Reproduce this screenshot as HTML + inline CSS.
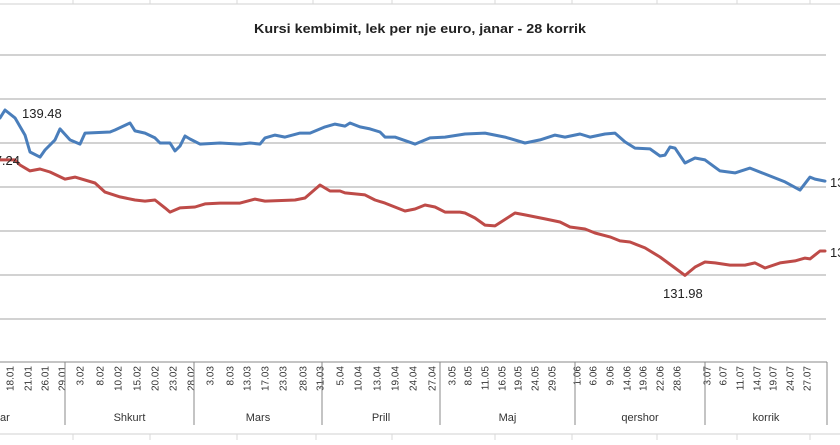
<!DOCTYPE html>
<html><head><meta charset="utf-8">
<style>
html,body{margin:0;padding:0;background:#fff;}
body{width:840px;height:440px;overflow:hidden;font-family:"Liberation Sans",sans-serif;}
svg text{font-family:"Liberation Sans",sans-serif;}
</style></head>
<body>
<svg id="chart" width="840" height="440" viewBox="0 0 840 440" xmlns="http://www.w3.org/2000/svg">
  <g id="excel-grid"></g>
  <text x="420" y="33" text-anchor="middle" font-size="12.5" font-weight="bold" fill="#222" textLength="332" lengthAdjust="spacingAndGlyphs">Kursi kembimit, lek per nje euro, janar - 28 korrik</text>
  <g id="gridlines"></g>
  <g id="series"></g>
  <g id="labels"></g>
  <g id="xaxis"></g>
</svg>
<script>
// ---- data ----
const yTicks = [130, 132, 134, 136, 138, 140, 142];
const blueDays = [0,1,3,5,6,8,9,11,12,14,16,17,22,23,26,27,29,31,32,34,35,36,37,38,40,44,48,50,52,53,55,57,60,62,65,67,69,70,72,74,76,77,79,83,86,89,93,97,101,105,108,111,113,116,118,121,123,125,127,130,132,133,134,135,137,139,141,144,147,150,153,157,160,162,163,165];
const blueValues = [139.14,139.50,139.14,138.36,137.59,137.36,137.68,138.14,138.64,138.14,137.95,138.45,138.50,138.59,138.91,138.55,138.45,138.23,138.00,138.00,137.64,137.86,138.32,138.18,137.95,138.00,137.95,138.00,137.95,138.23,138.36,138.27,138.45,138.45,138.73,138.86,138.77,138.91,138.73,138.64,138.50,138.27,138.27,137.95,138.23,138.27,138.41,138.45,138.27,138.00,138.14,138.36,138.27,138.41,138.27,138.41,138.45,138.05,137.77,137.73,137.41,137.45,137.82,137.77,137.09,137.32,137.23,136.73,136.64,136.86,136.59,136.23,135.86,136.45,136.36,136.27];
const redDays = [0,3,4,6,8,10,13,15,19,21,24,27,29,31,33,34,36,39,41,44,48,51,53,59,61,64,66,68,69,73,75,77,81,83,85,87,89,92,93,95,97,99,103,105,109,112,114,117,119,122,124,126,129,132,135,137,139,141,143,146,149,151,153,156,159,161,162,164,165];
const redValues = [137.23,137.23,137.00,136.73,136.82,136.68,136.36,136.45,136.18,135.77,135.55,135.41,135.36,135.41,135.05,134.86,135.05,135.09,135.23,135.27,135.27,135.45,135.36,135.41,135.50,136.09,135.82,135.82,135.73,135.64,135.41,135.27,134.91,135.00,135.18,135.09,134.86,134.86,134.82,134.59,134.27,134.23,134.82,134.73,134.55,134.41,134.18,134.09,133.91,133.73,133.55,133.50,133.23,132.82,132.32,131.98,132.36,132.59,132.55,132.45,132.45,132.55,132.32,132.55,132.64,132.77,132.73,133.09,133.09];
const tickLabels = ["18.01","21.01","26.01","29.01","3.02","8.02","10.02","15.02","20.02","23.02","28.02","3.03","8.03","13.03","17.03","23.03","28.03","31.03","5.04","10.04","13.04","19.04","24.04","27.04","3.05","8.05","11.05","16.05","19.05","24.05","29.05","1.06","6.06","9.06","14.06","19.06","22.06","28.06","3.07","6.07","11.07","14.07","19.07","24.07","27.07"];
const tickDays = [2,5.6,9,12.4,16,20,23.6,27.4,31,34.6,38.2,42,46,49.4,53,56.6,60.6,64,68,71.6,75.4,79,82.6,86.4,90.4,93.6,97,100.4,103.6,107,110.4,115.4,118.6,122,125.4,128.6,132,135.4,141.4,144.6,148,151.4,154.6,158,161.4];
const monthNames = ["janar","Shkurt","Mars","Prill","Maj","qershor","korrik"];
const monthStart = [-14,13,38.8,64.4,88,115,141];
const monthEnd = [13,38.8,64.4,88,115,141,165.4];

// ---- scales ----
const xScale = d => d * 5;
const yScale = v => 275 - (v - 132) * 22;
const NS = "http://www.w3.org/2000/svg";
function mk(tag, attrs, parent){const e=document.createElementNS(NS,tag);for(const k in attrs)e.setAttribute(k,attrs[k]);parent.appendChild(e);return e;}

// spreadsheet grid
const eg=document.getElementById('excel-grid');
const l1=mk('line',{x1:0,y1:4,x2:840,y2:4,stroke:'#d0d0d0','stroke-width':1},eg);


const l2=mk('line',{x1:0,y1:434,x2:840,y2:434,stroke:'#d0d0d0','stroke-width':1},eg);


[73,150,237,313,392,495,572,657,737,810].forEach(x=>{
  const a=mk('line',{x1:x,y1:0,x2:x,y2:4,stroke:'#d8d8d8'},eg);
  
  
});
[73,150,237,316,392,495,572,657,737,810].forEach(x=>{
  const a=mk('line',{x1:x,y1:434,x2:x,y2:440,stroke:'#d8d8d8'},eg);
  
  
});

// gridlines
const gl=document.getElementById('gridlines');
yTicks.forEach(v=>{
  const g=mk('line',{x1:0,y1:yScale(v),x2:826,y2:yScale(v),stroke:'#b8b8b8','stroke-width':1.3},gl);
  
  
});

// series
const sg=document.getElementById('series');
function pts(days,vals){return days.map((d,i)=>xScale(d).toFixed(1)+','+yScale(vals[i]).toFixed(1)).join(' ');}
const bl=mk('polyline',{points:pts(blueDays,blueValues),fill:'none',stroke:'#4a7ebb','stroke-width':3,'stroke-linejoin':'round','stroke-linecap':'round'},sg);


const rl=mk('polyline',{points:pts(redDays,redValues),fill:'none',stroke:'#be4b48','stroke-width':3,'stroke-linejoin':'round','stroke-linecap':'round'},sg);



// data labels
const lg=document.getElementById('labels');
function lab(x,y,t,name,anchor){const e=mk('text',{x:x,y:y,'font-size':13,fill:'#222','text-anchor':anchor||'start'},lg);e.textContent=t;}
lab(22,118,'139.48','label-blue-max');
lab(20,165,'137.24','label-red-start','end');
lab(663,298,'131.98','label-red-min');
lab(830,187,'136.27','label-blue-end');
lab(830,257,'133.09','label-red-end');

// x-axis
const xa=document.getElementById('xaxis');
const axisTop=mk('line',{x1:0,y1:362,x2:827,y2:362,stroke:'#888','stroke-width':1},xa);


tickLabels.forEach((t,i)=>{
  const x=xScale(tickDays[i]);
  const e=mk('text',{x:0,y:0,'font-size':10,fill:'#333','text-anchor':'end',transform:'translate('+(x+3.5)+',366) rotate(-90)'},xa);
  e.textContent=t;
  
  
});
monthNames.forEach((m,i)=>{
  const x1=xScale(monthStart[i]),x2=xScale(monthEnd[i]);
  const s=mk('line',{x1:x2,y1:362,x2:x2,y2:425,stroke:'#888','stroke-width':1},xa);
  
  
  const e=mk('text',{x:(x1+x2)/2,y:421,'font-size':11,fill:'#333','text-anchor':'middle'},xa);
  e.textContent=m;
  
  
});
</script>
</body></html>
